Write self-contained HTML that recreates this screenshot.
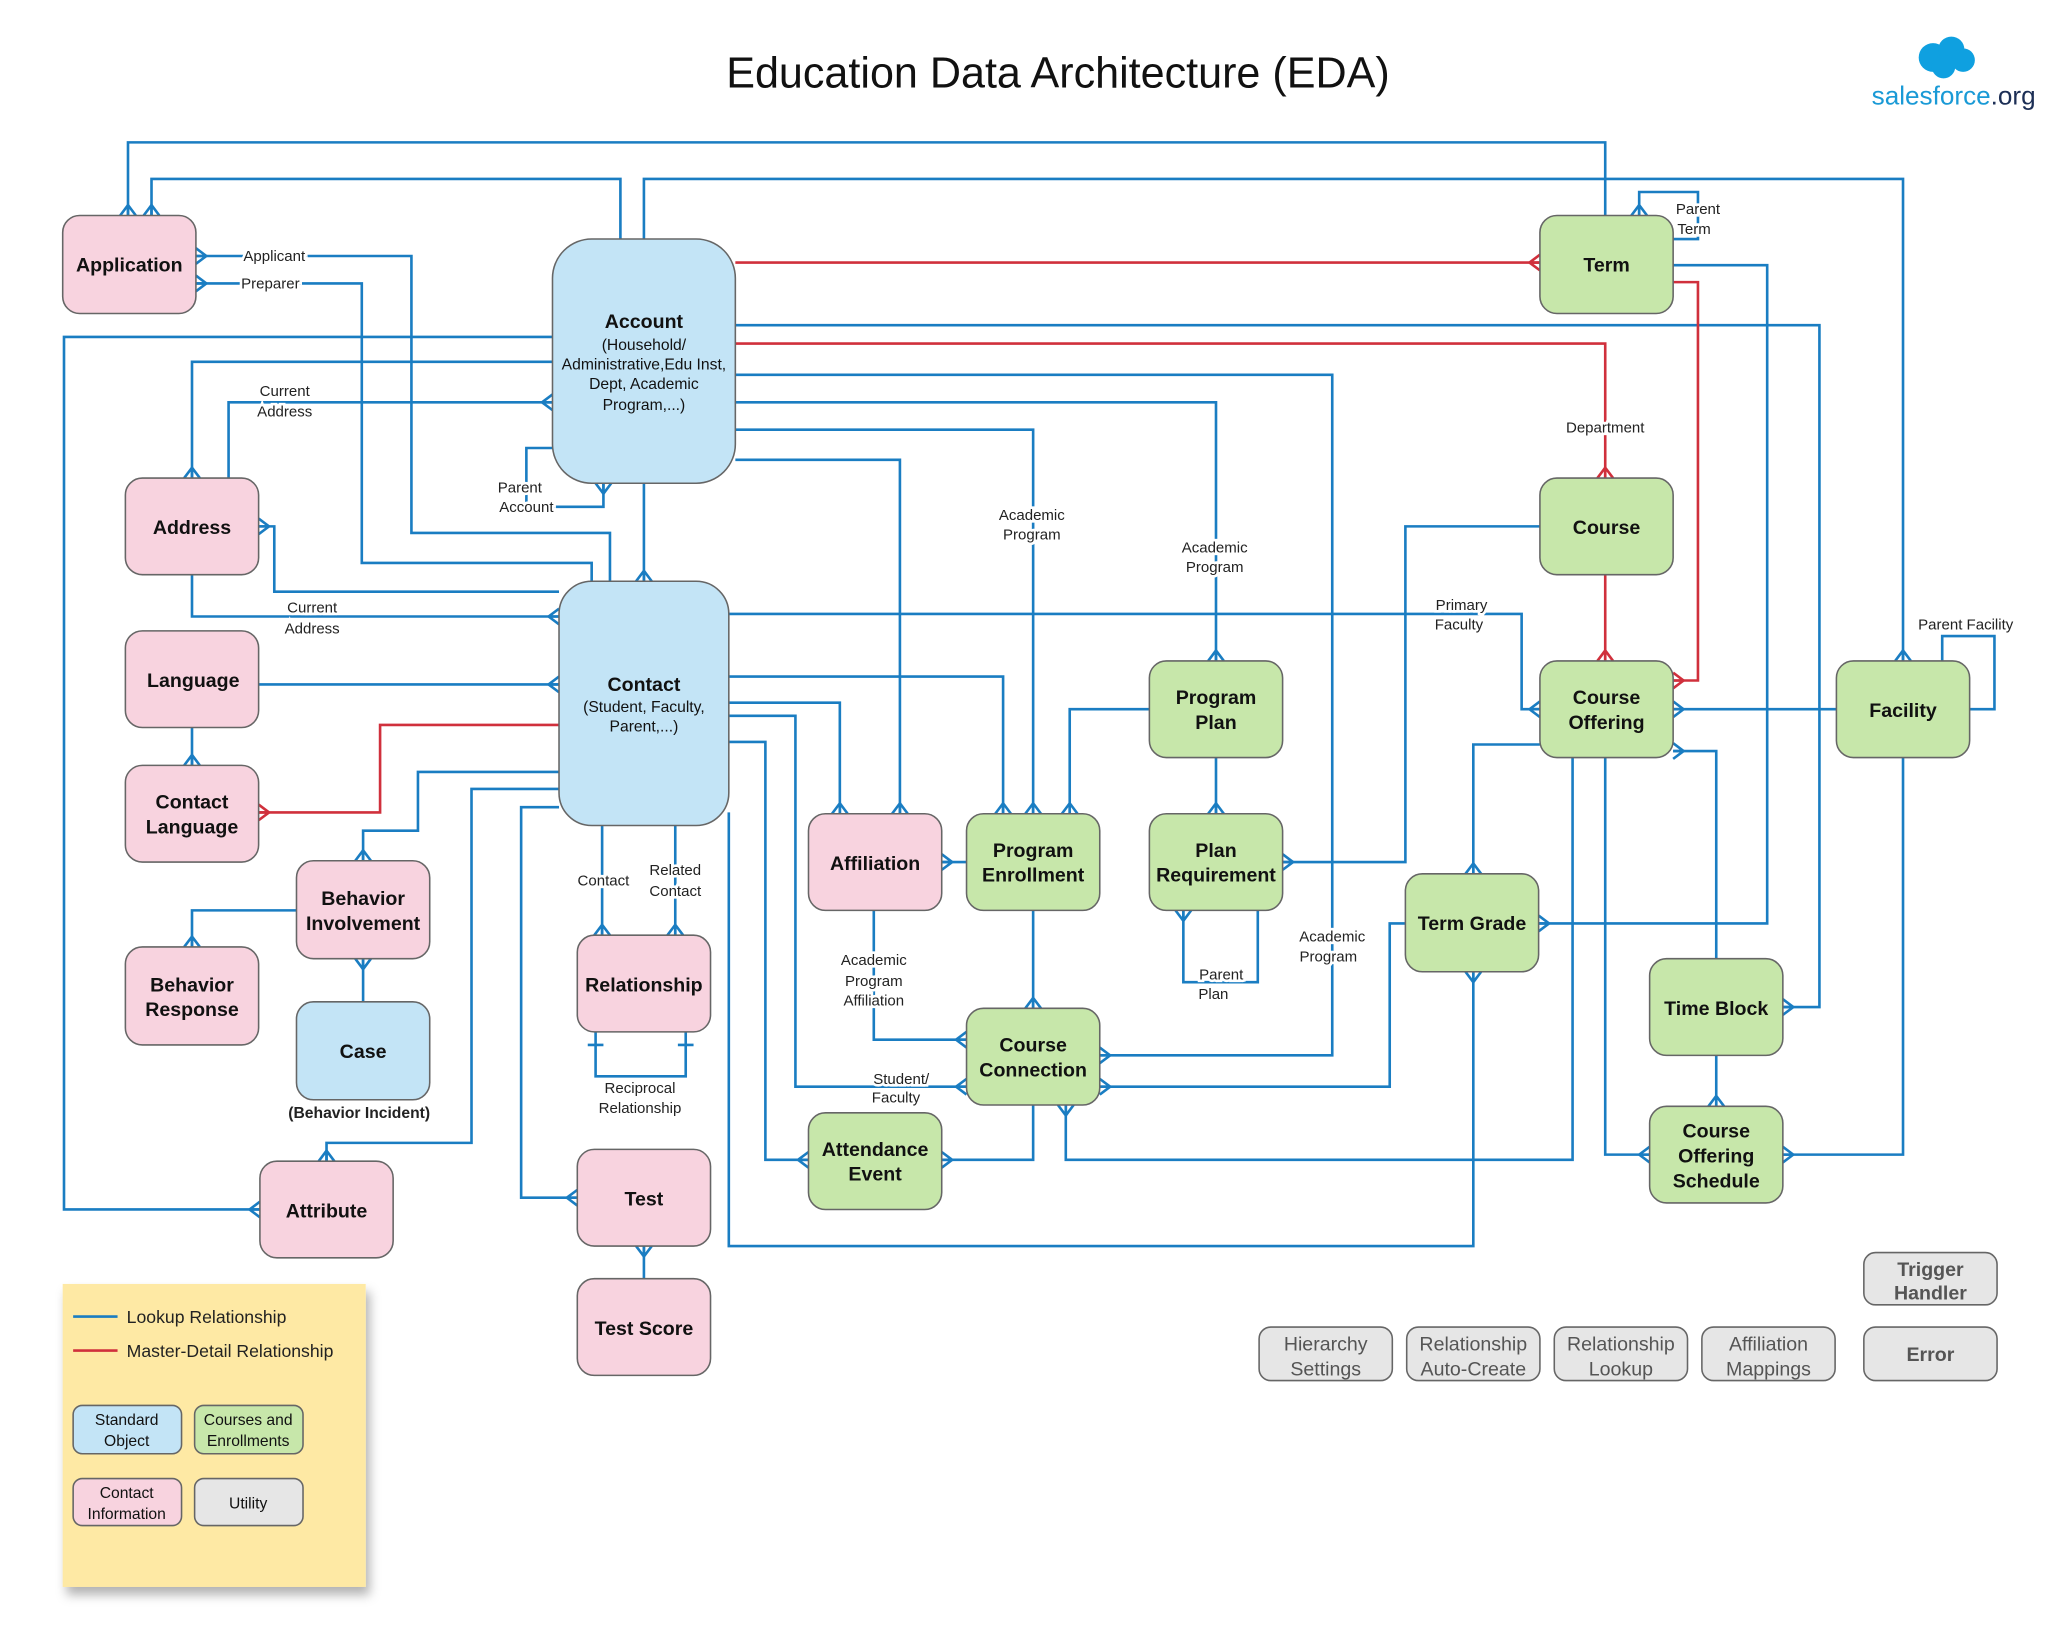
<!DOCTYPE html>
<html><head><meta charset="utf-8"><style>
html,body{margin:0;padding:0;background:#fff;overflow:hidden;}
svg{display:block;font-family:"Liberation Sans",sans-serif;}
.c{fill:none;stroke:#1a7dc2;stroke-width:2;marker-end:url(#crow);}
.n{fill:none;stroke:#1a7dc2;stroke-width:2;}
.r{fill:none;stroke:#d0303c;stroke-width:2;marker-end:url(#crowr);}
.bx{stroke:#666;stroke-width:1.2;}
.p{fill:#f8d3df}.b{fill:#c3e4f6}.g{fill:#c7e7aa}.u{fill:#e6e6e6}
.t{font-size:15px;font-weight:bold;fill:#111;text-anchor:middle;}
.s{font-size:12px;fill:#111;text-anchor:middle;}
.l{font-size:11.5px;fill:#222;text-anchor:middle;stroke:#fff;stroke-width:4;paint-order:stroke;}
.ut{font-size:15px;fill:#555;text-anchor:middle;}
</style></head><body>
<svg width="2048" height="1649" viewBox="0 0 1568 1262.5" preserveAspectRatio="none" xmlns="http://www.w3.org/2000/svg">
<defs>
<marker id="crow" markerUnits="userSpaceOnUse" markerWidth="20" markerHeight="20" refX="10" refY="10" orient="auto" viewBox="0 0 20 20">
<path d="M2 10 L10 4 M2 10 L10 16 M2 10 L10 10" stroke="#1a7dc2" stroke-width="2" fill="none"/></marker>
<marker id="crowr" markerUnits="userSpaceOnUse" markerWidth="20" markerHeight="20" refX="10" refY="10" orient="auto" viewBox="0 0 20 20">
<path d="M2 10 L10 4 M2 10 L10 16 M2 10 L10 10" stroke="#d0303c" stroke-width="2" fill="none"/></marker>
<filter id="sh" x="-10%" y="-10%" width="130%" height="130%"><feDropShadow dx="3" dy="6" stdDeviation="4" flood-color="#000" flood-opacity="0.3"/></filter>
</defs>

<text x="810" y="67" font-size="33" text-anchor="middle" fill="#111">Education Data Architecture (EDA)</text>
<g fill="#0fa0e0"><circle cx="1480" cy="44" r="11"/><circle cx="1494" cy="38" r="10"/><circle cx="1503" cy="46" r="9"/><circle cx="1488" cy="51" r="9"/></g>
<text x="1433" y="80" font-size="20" fill="#1a9ad6">salesforce<tspan fill="#1c2e55">.org</tspan></text>

<path class="c" d="M1229 165 V109 H98 V165"/>
<path class="c" d="M475 183 V137 H116 V165"/>
<path class="c" d="M493 183 V137 H1457 V506"/>
<path class="c" d="M467 445 V408 H315 V196 H150"/>
<path class="c" d="M453 445 V431 H277 V217 H150"/>
<path class="r" d="M563 201 H1179"/>
<path class="c" d="M563 249 H1393 V771 H1365"/>
<path class="r" d="M563 263 H1229 V366"/>
<path class="c" d="M563 287 H1020 V808 H842"/>
<path class="c" d="M563 308 H931 V506"/>
<path class="c" d="M563 329 H791 V623"/>
<path class="c" d="M563 352 H689 V623"/>
<path class="c" d="M423 258 H49 V926 H199"/>
<path class="c" d="M423 277 H147 V366"/>
<path class="c" d="M175 366 V308 H423"/>
<path class="c" d="M423 343 H403 V388 H462 V370"/>
<path class="c" d="M493 370 V445"/>
<path class="c" d="M428 453 H210 V403 H198"/>
<path class="c" d="M147 440 V472 H428"/>
<path class="c" d="M198 524 H428"/>
<path class="r" d="M428 555 H291 V622 H198"/>
<path class="c" d="M147 557 V586"/>
<path class="c" d="M428 591 H320 V636 H278 V659"/>
<path class="c" d="M227 697 H147 V725"/>
<path class="c" d="M278 767 V734"/>
<path class="c" d="M428 604 H361 V875 H250 V889"/>
<path class="c" d="M428 618 H399 V917 H442"/>
<path class="c" d="M461 632 V716"/>
<path class="c" d="M517 632 V716"/>
<path class="n" d="M456 790 V824 H525 V790 M450 800 H462 M519 800 H531"/>
<path class="c" d="M493 979 V954"/>
<path class="c" d="M558 470 H1165 V543 H1179"/>
<path class="c" d="M558 518 H768 V623"/>
<path class="c" d="M558 538 H643 V623"/>
<path class="c" d="M558 548 H609 V832 H740"/>
<path class="c" d="M558 568 H586 V888 H619"/>
<path class="c" d="M558 622 V954 H1128 V744"/>
<path class="c" d="M740 660 H721"/>
<path class="c" d="M669 697 V796 H740"/>
<path class="c" d="M791 697 V772"/>
<path class="c" d="M880 543 H819 V623"/>
<path class="c" d="M931 580 V623"/>
<path class="c" d="M1179 403 H1076 V660 H982"/>
<path class="c" d="M963 697 V752 H906 V697"/>
<path class="r" d="M1229 440 V506"/>
<path class="r" d="M1281 216 H1300 V521 H1281"/>
<path class="c" d="M1281 203 H1353 V707 H1178"/>
<path class="c" d="M1281 183 H1300 V147 H1255 V165"/>
<path class="c" d="M1406 543 H1281"/>
<path class="n" d="M1508 543 H1527 V487 H1487 V506"/>
<path class="c" d="M1457 580 V884 H1365"/>
<path class="c" d="M1179 570 H1128 V669"/>
<path class="c" d="M1204 580 V888 H816 V846"/>
<path class="c" d="M1229 580 V884 H1263"/>
<path class="c" d="M1314 734 V575 H1281"/>
<path class="c" d="M1314 808 V847"/>
<path class="c" d="M1076 707 H1064 V832 H842"/>
<path class="c" d="M791 846 V888 H721"/>

<text class="l" x="210" y="200">Applicant</text>
<text class="l" x="207" y="221">Preparer</text>
<text class="l" x="218" y="303">Current</text><text class="l" x="218" y="319">Address</text>
<text class="l" x="398" y="377">Parent</text><text class="l" x="403" y="392">Account</text>
<text class="l" x="239" y="469">Current</text><text class="l" x="239" y="485">Address</text>
<text class="l" x="1229" y="331">Department</text>
<text class="l" x="1300" y="164">Parent</text><text class="l" x="1297" y="179">Term</text>
<text class="l" x="790" y="398">Academic</text><text class="l" x="790" y="413">Program</text>
<text class="l" x="930" y="423">Academic</text><text class="l" x="930" y="438">Program</text>
<text class="l" x="1119" y="467">Primary</text><text class="l" x="1117" y="482">Faculty</text>
<text class="l" x="1505" y="482">Parent Facility</text>
<text class="l" x="1020" y="721">Academic</text><text class="l" x="1017" y="736">Program</text>
<text class="l" x="935" y="750">Parent</text><text class="l" x="929" y="765">Plan</text>
<text class="l" x="462" y="678">Contact</text>
<text class="l" x="517" y="670">Related</text><text class="l" x="517" y="686">Contact</text>
<text class="l" x="490" y="837">Reciprocal</text><text class="l" x="490" y="852">Relationship</text>
<text class="l" x="669" y="739">Academic</text><text class="l" x="669" y="755">Program</text><text class="l" x="669" y="770">Affiliation</text>
<text class="l" x="690" y="830">Student/</text><text class="l" x="686" y="844">Faculty</text>

<rect class="bx p" x="48" y="165" width="102" height="75" rx="13"/><text class="t" x="99" y="208">Application</text>
<rect class="bx b" x="423" y="183" width="140" height="187" rx="30"/>
<text class="t" x="493" y="251">Account</text>
<text class="s" x="493" y="268">(Household/</text><text class="s" x="493" y="283">Administrative,Edu Inst,</text><text class="s" x="493" y="298">Dept, Academic</text><text class="s" x="493" y="314">Program,...)</text>
<rect class="bx g" x="1179" y="165" width="102" height="75" rx="13"/><text class="t" x="1230" y="208">Term</text>
<rect class="bx p" x="96" y="366" width="102" height="74" rx="13"/><text class="t" x="147" y="409">Address</text>
<rect class="bx g" x="1179" y="366" width="102" height="74" rx="13"/><text class="t" x="1230" y="409">Course</text>
<rect class="bx p" x="96" y="483" width="102" height="74" rx="13"/><text class="t" x="148" y="526">Language</text>
<rect class="bx b" x="428" y="445" width="130" height="187" rx="25"/>
<text class="t" x="493" y="529">Contact</text>
<text class="s" x="493" y="545">(Student, Faculty,</text><text class="s" x="493" y="560">Parent,...)</text>
<rect class="bx g" x="880" y="506" width="102" height="74" rx="13"/><text class="t" x="931" y="539">Program</text><text class="t" x="931" y="558">Plan</text>
<rect class="bx g" x="1179" y="506" width="102" height="74" rx="13"/><text class="t" x="1230" y="539">Course</text><text class="t" x="1230" y="558">Offering</text>
<rect class="bx g" x="1406" y="506" width="102" height="74" rx="13"/><text class="t" x="1457" y="549">Facility</text>
<rect class="bx p" x="96" y="586" width="102" height="74" rx="13"/><text class="t" x="147" y="619">Contact</text><text class="t" x="147" y="638">Language</text>
<rect class="bx p" x="619" y="623" width="102" height="74" rx="13"/><text class="t" x="670" y="666">Affiliation</text>
<rect class="bx g" x="740" y="623" width="102" height="74" rx="13"/><text class="t" x="791" y="656">Program</text><text class="t" x="791" y="675">Enrollment</text>
<rect class="bx g" x="880" y="623" width="102" height="74" rx="13"/><text class="t" x="931" y="656">Plan</text><text class="t" x="931" y="675">Requirement</text>
<rect class="bx p" x="227" y="659" width="102" height="75" rx="13"/><text class="t" x="278" y="693">Behavior</text><text class="t" x="278" y="712">Involvement</text>
<rect class="bx g" x="1076" y="669" width="102" height="75" rx="13"/><text class="t" x="1127" y="712">Term Grade</text>
<rect class="bx p" x="442" y="716" width="102" height="74" rx="13"/><text class="t" x="493" y="759">Relationship</text>
<rect class="bx p" x="96" y="725" width="102" height="75" rx="13"/><text class="t" x="147" y="759">Behavior</text><text class="t" x="147" y="778">Response</text>
<rect class="bx g" x="1263" y="734" width="102" height="74" rx="13"/><text class="t" x="1314" y="777">Time Block</text>
<rect class="bx b" x="227" y="767" width="102" height="75" rx="13"/><text class="t" x="278" y="810">Case</text>
<text x="275" y="856" font-size="12" font-weight="bold" fill="#222" text-anchor="middle">(Behavior Incident)</text>
<rect class="bx g" x="740" y="772" width="102" height="74" rx="13"/><text class="t" x="791" y="805">Course</text><text class="t" x="791" y="824">Connection</text>
<rect class="bx g" x="1263" y="847" width="102" height="74" rx="13"/><text class="t" x="1314" y="871">Course</text><text class="t" x="1314" y="890">Offering</text><text class="t" x="1314" y="909">Schedule</text>
<rect class="bx g" x="619" y="852" width="102" height="74" rx="13"/><text class="t" x="670" y="885">Attendance</text><text class="t" x="670" y="904">Event</text>
<rect class="bx p" x="442" y="880" width="102" height="74" rx="13"/><text class="t" x="493" y="923">Test</text>
<rect class="bx p" x="199" y="889" width="102" height="74" rx="13"/><text class="t" x="250" y="932">Attribute</text>
<rect class="bx p" x="442" y="979" width="102" height="74" rx="13"/><text class="t" x="493" y="1022">Test Score</text>

<rect class="bx u" x="1427" y="959" width="102" height="40" rx="9"/><text class="ut" x="1478" y="977" font-weight="bold">Trigger</text><text class="ut" x="1478" y="995" font-weight="bold">Handler</text>
<rect class="bx u" x="964" y="1016" width="102" height="41" rx="9"/><text class="ut" x="1015" y="1034">Hierarchy</text><text class="ut" x="1015" y="1053">Settings</text>
<rect class="bx u" x="1077" y="1016" width="102" height="41" rx="9"/><text class="ut" x="1128" y="1034">Relationship</text><text class="ut" x="1128" y="1053">Auto-Create</text>
<rect class="bx u" x="1190" y="1016" width="102" height="41" rx="9"/><text class="ut" x="1241" y="1034">Relationship</text><text class="ut" x="1241" y="1053">Lookup</text>
<rect class="bx u" x="1303" y="1016" width="102" height="41" rx="9"/><text class="ut" x="1354" y="1034">Affiliation</text><text class="ut" x="1354" y="1053">Mappings</text>
<rect class="bx u" x="1427" y="1016" width="102" height="41" rx="9"/><text class="ut" x="1478" y="1042" font-weight="bold">Error</text>

<rect x="48" y="983" width="232" height="232" fill="#fee9a4" filter="url(#sh)"/>
<path d="M56 1008 H90" stroke="#1a7dc2" stroke-width="2"/><text x="97" y="1013" font-size="13.5" fill="#222">Lookup Relationship</text>
<path d="M56 1034 H90" stroke="#d0303c" stroke-width="2"/><text x="97" y="1039" font-size="13.5" fill="#222">Master-Detail Relationship</text>
<rect class="bx b" x="56" y="1076" width="83" height="37" rx="7"/><text class="s" x="97" y="1091">Standard</text><text class="s" x="97" y="1107">Object</text>
<rect class="bx g" x="149" y="1076" width="83" height="37" rx="7"/><text class="s" x="190" y="1091">Courses and</text><text class="s" x="190" y="1107">Enrollments</text>
<rect class="bx p" x="56" y="1132" width="83" height="36" rx="7"/><text class="s" x="97" y="1147">Contact</text><text class="s" x="97" y="1163">Information</text>
<rect class="bx u" x="149" y="1132" width="83" height="36" rx="7"/><text class="s" x="190" y="1155">Utility</text>
</svg>
</body></html>
